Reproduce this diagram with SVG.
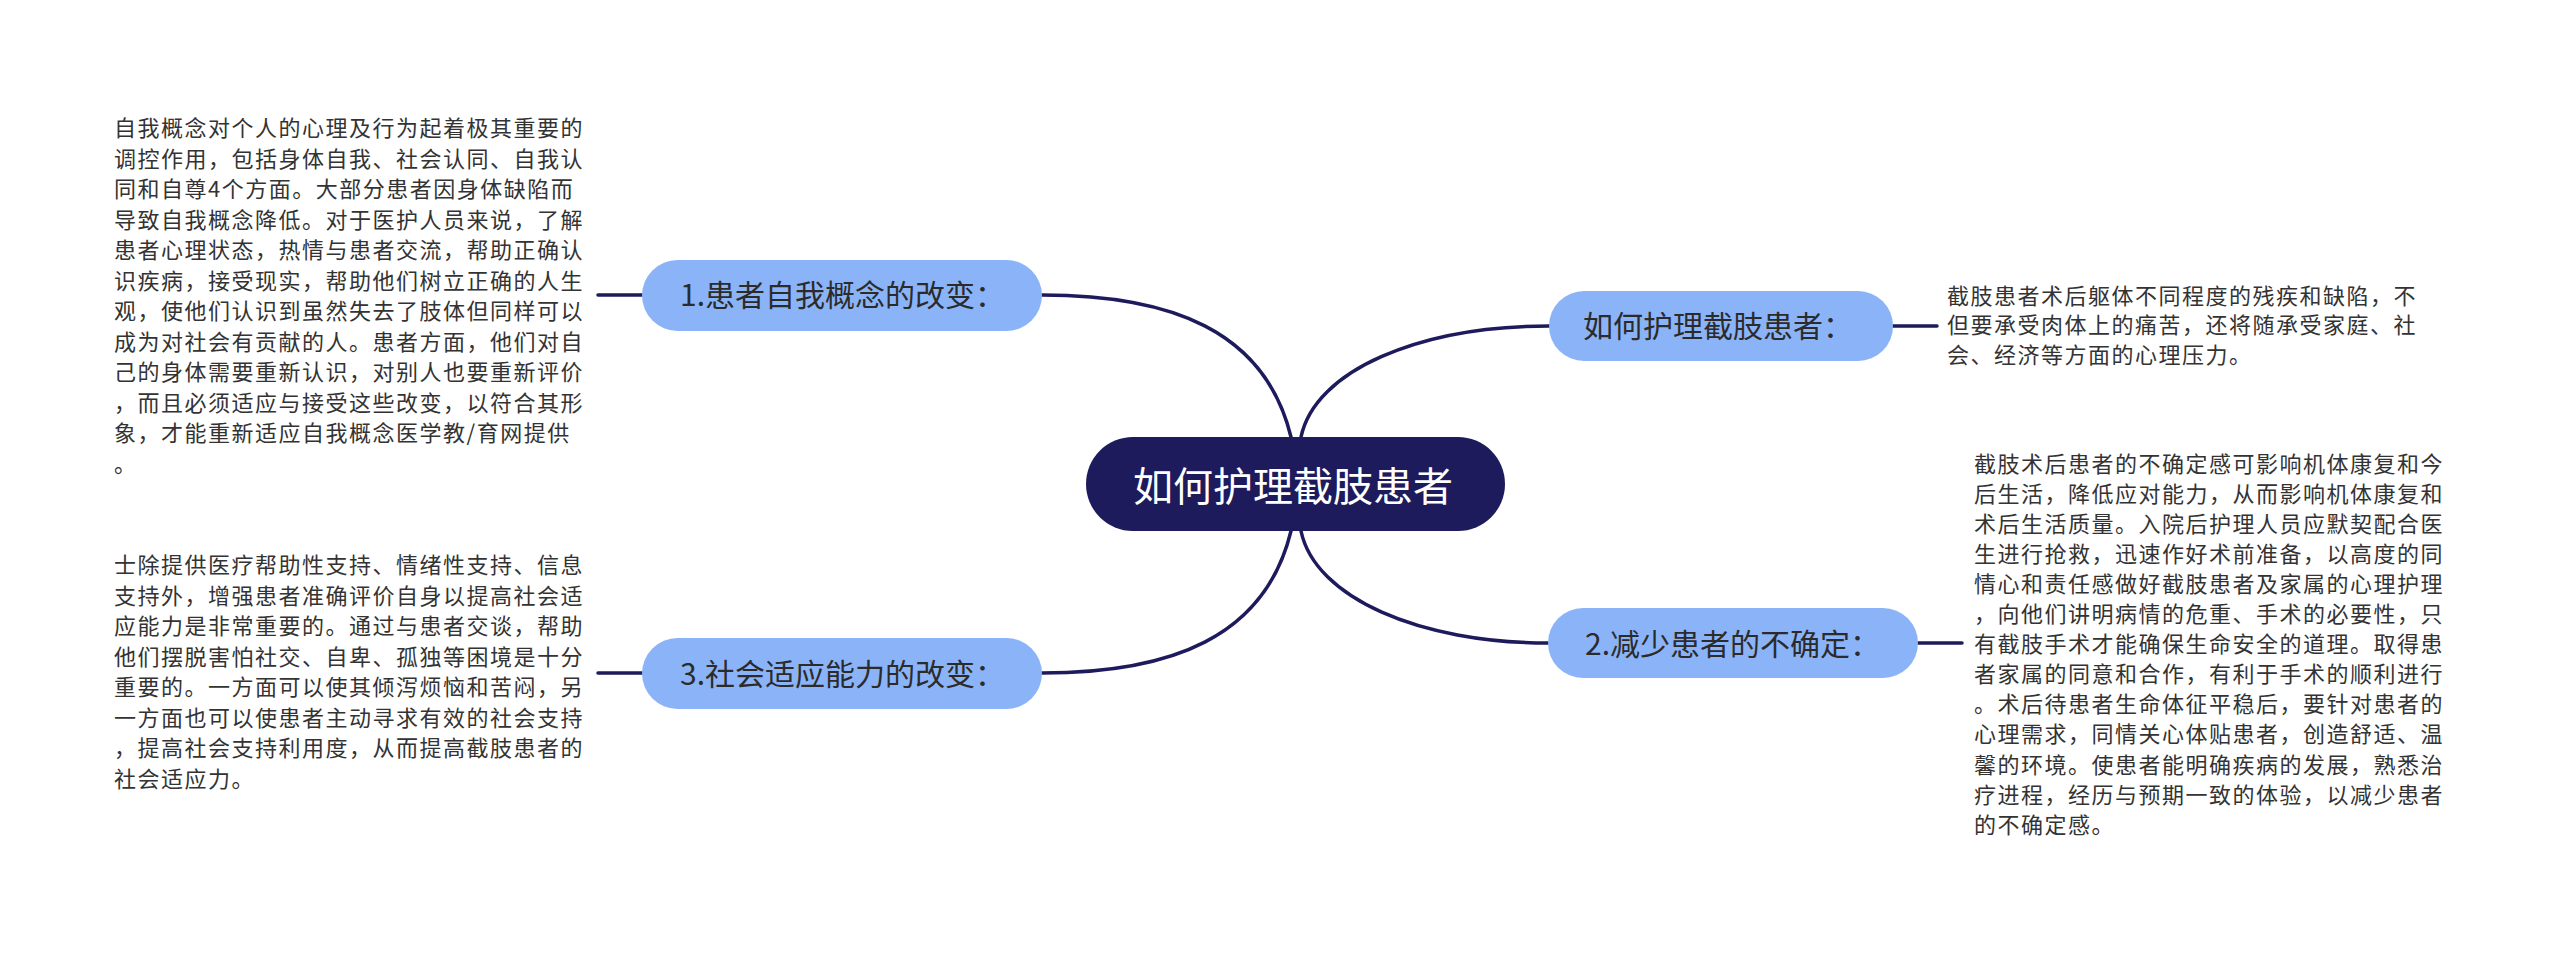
<svg xmlns="http://www.w3.org/2000/svg" width="2560" height="954" viewBox="0 0 2560 954">
<style>
.bg{fill:#ffffff}
.conn{fill:none;stroke:#1d1b5c;stroke-width:3.5;stroke-linecap:round}
.branch{fill:#8bb4f8}
.root{fill:#1d1b5c}
.bt{font-family:"Noto Sans CJK SC","Noto Sans",sans-serif;font-size:30px;fill:#2b2b2b}
.rt{font-family:"Noto Sans CJK SC","Noto Sans",sans-serif;font-size:40px;fill:#ffffff}
.note{font-family:"Noto Sans CJK SC","Noto Sans",sans-serif;font-size:22px;letter-spacing:1.5px;fill:#333333}
</style>
<rect class="bg" x="0" y="0" width="2560" height="954"/>
<g id="connectors">
<path class="conn" d="M1042,295 C1170,295 1265,330 1291,437"/>
<path class="conn" d="M1042,673 C1170,673 1265,638 1291,531"/>
<path class="conn" d="M1301,437 C1315,370 1420,326 1549,326"/>
<path class="conn" d="M1301,531 C1315,598 1420,643 1548,643"/>
<path class="conn" d="M598,295 L642,295"/>
<path class="conn" d="M598,673 L642,673"/>
<path class="conn" d="M1893,326 L1937,326"/>
<path class="conn" d="M1918,643 L1962,643"/>
</g>
<g id="root">
<rect class="root" x="1086" y="437" width="419" height="94" rx="47"/>
<text class="rt" x="1293" y="501" text-anchor="middle">如何护理截肢患者</text>
</g>
<g id="node1">
<rect class="branch" x="642" y="260" width="400" height="71" rx="35.5"/>
<text class="bt" x="680" y="306">1.患者自我概念的改变：</text>
</g>
<g id="node3">
<rect class="branch" x="642" y="638" width="400" height="71" rx="35.5"/>
<text class="bt" x="680" y="685">3.社会适应能力的改变：</text>
</g>
<g id="nodeA">
<rect class="branch" x="1549" y="291" width="344" height="70" rx="35"/>
<text class="bt" x="1583" y="337">如何护理截肢患者：</text>
</g>
<g id="node2">
<rect class="branch" x="1548" y="608" width="370" height="70" rx="35"/>
<text class="bt" x="1585" y="655">2.减少患者的不确定：</text>
</g>
<g id="note1">
<text class="note" x="114" y="136">
<tspan x="114" y="136">自我概念对个人的心理及行为起着极其重要的</tspan>
<tspan x="114" y="166.5">调控作用，包括身体自我、社会认同、自我认</tspan>
<tspan x="114" y="197">同和自尊4个方面。大部分患者因身体缺陷而</tspan>
<tspan x="114" y="227.5">导致自我概念降低。对于医护人员来说，了解</tspan>
<tspan x="114" y="258">患者心理状态，热情与患者交流，帮助正确认</tspan>
<tspan x="114" y="288.5">识疾病，接受现实，帮助他们树立正确的人生</tspan>
<tspan x="114" y="319">观，使他们认识到虽然失去了肢体但同样可以</tspan>
<tspan x="114" y="349.5">成为对社会有贡献的人。患者方面，他们对自</tspan>
<tspan x="114" y="380">己的身体需要重新认识，对别人也要重新评价</tspan>
<tspan x="114" y="410.5">，而且必须适应与接受这些改变，以符合其形</tspan>
<tspan x="114" y="441">象，才能重新适应自我概念医学教/育网提供</tspan>
<tspan x="114" y="471.5">。</tspan>
</text>
</g>
<g id="note3">
<text class="note" x="114" y="573">
<tspan x="114" y="573">士除提供医疗帮助性支持、情绪性支持、信息</tspan>
<tspan x="114" y="603.5">支持外，增强患者准确评价自身以提高社会适</tspan>
<tspan x="114" y="634">应能力是非常重要的。通过与患者交谈，帮助</tspan>
<tspan x="114" y="664.5">他们摆脱害怕社交、自卑、孤独等困境是十分</tspan>
<tspan x="114" y="695">重要的。一方面可以使其倾泻烦恼和苦闷，另</tspan>
<tspan x="114" y="725.5">一方面也可以使患者主动寻求有效的社会支持</tspan>
<tspan x="114" y="756">，提高社会支持利用度，从而提高截肢患者的</tspan>
<tspan x="114" y="786.5">社会适应力。</tspan>
</text>
</g>
<g id="noteA">
<text class="note" x="1947" y="304">
<tspan x="1947" y="304">截肢患者术后躯体不同程度的残疾和缺陷，不</tspan>
<tspan x="1947" y="333.4">但要承受肉体上的痛苦，还将随承受家庭、社</tspan>
<tspan x="1947" y="362.8">会、经济等方面的心理压力。</tspan>
</text>
</g>
<g id="note2">
<text class="note" x="1974" y="471.5">
<tspan x="1974" y="471.5">截肢术后患者的不确定感可影响机体康复和今</tspan>
<tspan x="1974" y="501.6">后生活，降低应对能力，从而影响机体康复和</tspan>
<tspan x="1974" y="531.7">术后生活质量。入院后护理人员应默契配合医</tspan>
<tspan x="1974" y="561.8">生进行抢救，迅速作好术前准备，以高度的同</tspan>
<tspan x="1974" y="591.9">情心和责任感做好截肢患者及家属的心理护理</tspan>
<tspan x="1974" y="622">，向他们讲明病情的危重、手术的必要性，只</tspan>
<tspan x="1974" y="652.1">有截肢手术才能确保生命安全的道理。取得患</tspan>
<tspan x="1974" y="682.2">者家属的同意和合作，有利于手术的顺利进行</tspan>
<tspan x="1974" y="712.3">。术后待患者生命体征平稳后，要针对患者的</tspan>
<tspan x="1974" y="742.4">心理需求，同情关心体贴患者，创造舒适、温</tspan>
<tspan x="1974" y="772.5">馨的环境。使患者能明确疾病的发展，熟悉治</tspan>
<tspan x="1974" y="802.6">疗进程，经历与预期一致的体验，以减少患者</tspan>
<tspan x="1974" y="832.7">的不确定感。</tspan>
</text>
</g>
</svg>
